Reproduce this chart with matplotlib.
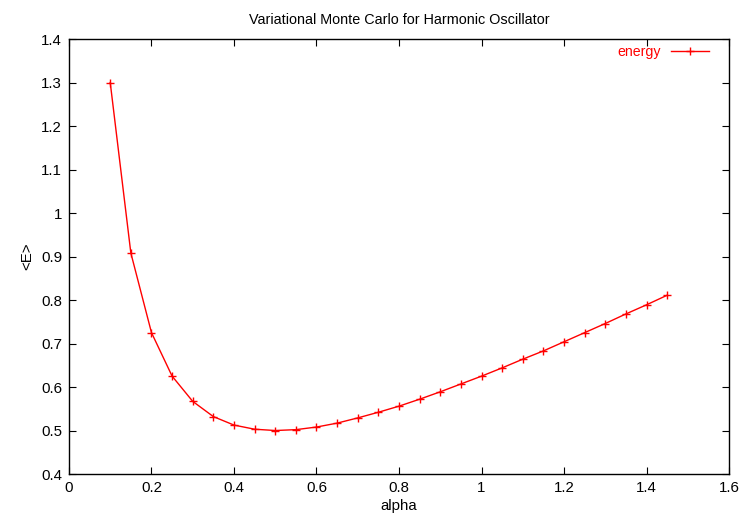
import matplotlib
matplotlib.use("Agg")
import matplotlib.pyplot as plt

plt.rcParams['font.family'] = ['Liberation Sans', 'DejaVu Sans']
plt.rcParams['font.size'] = 10.8

alpha = [0.10, 0.15, 0.20, 0.25, 0.30, 0.35, 0.40, 0.45, 0.50, 0.55,
         0.60, 0.65, 0.70, 0.75, 0.80, 0.85, 0.90, 0.95, 1.00, 1.05,
         1.10, 1.15, 1.20, 1.25, 1.30, 1.35, 1.40, 1.45]
energy = [1.300, 0.908, 0.725, 0.625, 0.567, 0.532, 0.5125, 0.503, 0.500, 0.502,
          0.508, 0.517, 0.529, 0.542, 0.556, 0.572, 0.589, 0.607, 0.625, 0.644,
          0.664, 0.683, 0.704, 0.725, 0.746, 0.768, 0.789, 0.811]

fig = plt.figure(figsize=(7.4, 5.25), dpi=100)
ax = fig.add_axes([0.0932, 0.0971, 0.892, 0.8286])

ax.plot(alpha, energy, color='red', lw=1, marker='+', ms=5.5, mew=1, label='energy')

ax.set_xlim(0, 1.6)
ax.set_ylim(0.4, 1.4)
ax.set_xticks([0, 0.2, 0.4, 0.6, 0.8, 1.0, 1.2, 1.4, 1.6])
ax.set_xticklabels(['0', '0.2', '0.4', '0.6', '0.8', '1', '1.2', '1.4', '1.6'])
ax.set_yticks([0.4, 0.5, 0.6, 0.7, 0.8, 0.9, 1.0, 1.1, 1.2, 1.3, 1.4])
ax.set_yticklabels(['0.4', '0.5', '0.6', '0.7', '0.8', '0.9', '1', '1.1', '1.2', '1.3', '1.4'])
ax.tick_params(direction='in', top=True, right=True, length=5, width=0.8, pad=5)
for s in ax.spines.values():
    s.set_linewidth(1)

ax.set_xlabel('alpha', labelpad=3)
ax.set_ylabel('<E>', labelpad=5)
ax.set_title('Variational Monte Carlo for Harmonic Oscillator', fontsize=10.4, pad=11)

leg = ax.legend(loc='upper right', bbox_to_anchor=(0.985, 1.008), frameon=False, fontsize=10.2,
                markerfirst=False, handlelength=2.7, borderaxespad=0.3, handletextpad=0.7)
for t in leg.get_texts():
    t.set_color('red')

fig.savefig('out.png', dpi=100)
